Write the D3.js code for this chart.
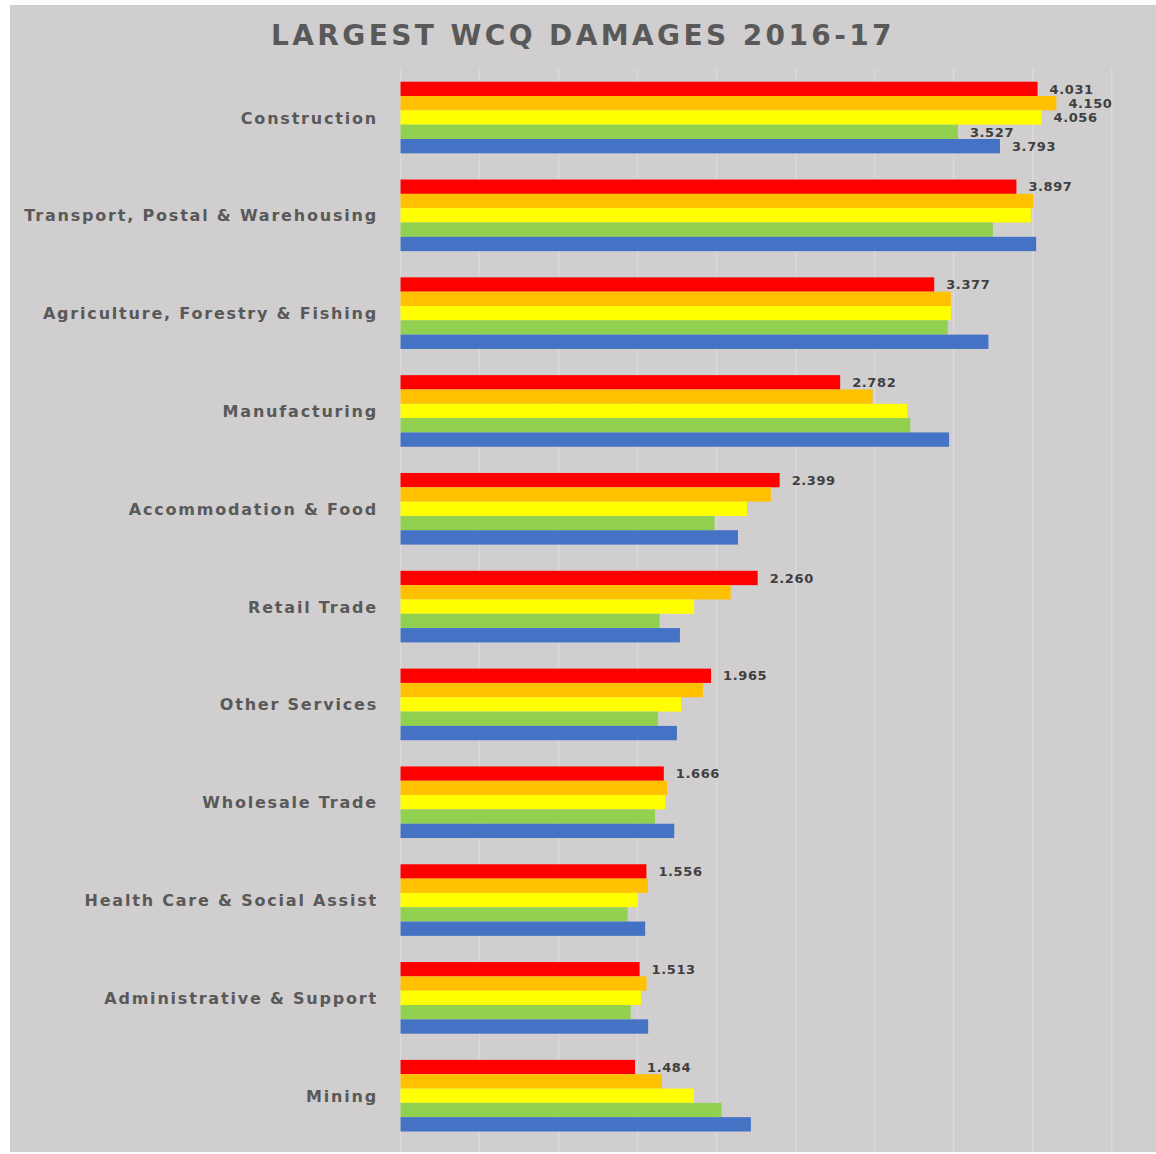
<!DOCTYPE html>
<html lang="en">
<head>
    <meta charset="UTF-8">
    <title>Largest WCQ Damages 2016-17</title>
    <style>
        html, body { margin: 0; padding: 0; background: #ffffff; }
        svg text { font-family: 'DejaVu Sans', sans-serif; }
    </style>
    <script src="https://d3js.org/d3.v7.min.js"></script>
</head>
<body>
    <svg width="1156" height="1154"></svg>
    <script>
        const categories = [
            "Construction",
            "Transport, Postal & Warehousing",
            "Agriculture, Forestry & Fishing",
            "Manufacturing",
            "Accommodation & Food",
            "Retail Trade",
            "Other Services",
            "Wholesale Trade",
            "Health Care & Social Assist",
            "Administrative & Support",
            "Mining"
        ];

        // one series per colour, top bar to bottom bar in each group
        const seriesNames = ["2016-17", "2015-16", "2014-15", "2013-14", "2012-13"];
        const seriesColors = ["#ff0000", "#ffc000", "#ffff00", "#92d050", "#4472c4"];

        const s2016 = [4.031, 3.897, 3.377, 2.782, 2.399, 2.260, 1.965, 1.666, 1.556, 1.513, 1.484];
        const s2015 = [4.150, 4.003, 3.482, 2.987, 2.343, 2.089, 1.913, 1.686, 1.565, 1.557, 1.654];
        const s2014 = [4.056, 3.988, 3.482, 3.206, 2.192, 1.858, 1.776, 1.675, 1.500, 1.521, 1.857];
        const s2013 = [3.527, 3.748, 3.463, 3.225, 1.987, 1.639, 1.629, 1.610, 1.437, 1.456, 2.031];
        const s2012 = [3.793, 4.022, 3.720, 3.471, 2.135, 1.768, 1.749, 1.732, 1.548, 1.567, 2.217];
        const seriesValues = [s2016, s2015, s2014, s2013, s2012];

        // categories where every bar carries a value label (others: top bar only)
        const fullyLabelled = ["Construction"];

        const xTicks = [0, 0.5, 1, 1.5, 2, 2.5, 3, 3.5, 4, 4.5];

        const width = 1156, height = 1154;
        const svg = d3.select("svg");

        svg.append("rect")
            .attr("x", 10).attr("y", 5)
            .attr("width", width - 10).attr("height", 1147)
            .attr("fill", "#d0cecf");

        const x = d3.scaleLinear()
            .domain([0, 4.5])
            .range([400.5, 1111.7]);

        const y = d3.scaleBand()
            .domain(categories)
            .range([68.6, 1144.6])
            .paddingInner(0.268)
            .paddingOuter(0.134);

        const ySub = d3.scaleBand()
            .domain(seriesNames)
            .range([0, y.bandwidth()]);

        // gridlines
        svg.append("g")
            .selectAll("line")
            .data(xTicks)
            .enter().append("line")
            .attr("x1", d => x(d)).attr("x2", d => x(d))
            .attr("y1", 69).attr("y2", 1152)
            .attr("stroke", "#dbd9da")
            .attr("stroke-width", 1.5);

        const rows = categories.map((c, i) => ({
            category: c,
            values: seriesNames.map((s, j) => ({ series: s, idx: j, value: seriesValues[j][i], category: c }))
        }));

        const groups = svg.selectAll("g.cat")
            .data(rows)
            .enter().append("g")
            .attr("class", "cat")
            .attr("transform", d => `translate(0, ${y(d.category)})`);

        groups.selectAll("rect")
            .data(d => d.values)
            .enter().append("rect")
            .attr("x", x(0))
            .attr("y", d => ySub(d.series))
            .attr("width", d => x(d.value) - x(0))
            .attr("height", ySub.bandwidth())
            .attr("fill", d => seriesColors[d.idx]);

        groups.selectAll("text.val")
            .data(d => d.values.filter(v => v.idx === 0 || fullyLabelled.includes(v.category)))
            .enter().append("text")
            .attr("class", "val")
            .attr("x", d => x(d.value) + 12)
            .attr("y", d => ySub(d.series) + ySub.bandwidth() / 2)
            .attr("dy", "0.36em")
            .style("font-size", "13px")
            .style("font-weight", "700")
            .style("letter-spacing", "0.6px")
            .style("fill", "#404040")
            .text(d => d.value.toFixed(3));

        // category labels
        svg.append("g")
            .selectAll("text")
            .data(categories)
            .enter().append("text")
            .attr("x", 378)
            .attr("y", d => y(d) + y.bandwidth() / 2)
            .attr("dy", "0.38em")
            .attr("text-anchor", "end")
            .style("font-size", "16px")
            .style("font-weight", "700")
            .style("letter-spacing", "1.8px")
            .style("fill", "#595959")
            .text(d => d);

        svg.append("text")
            .attr("x", 583)
            .attr("y", 45)
            .attr("text-anchor", "middle")
            .style("font-size", "28px")
            .style("font-weight", "700")
            .style("letter-spacing", "3.4px")
            .style("fill", "#595959")
            .text("LARGEST WCQ DAMAGES 2016-17");
    </script>
</body>
</html>
